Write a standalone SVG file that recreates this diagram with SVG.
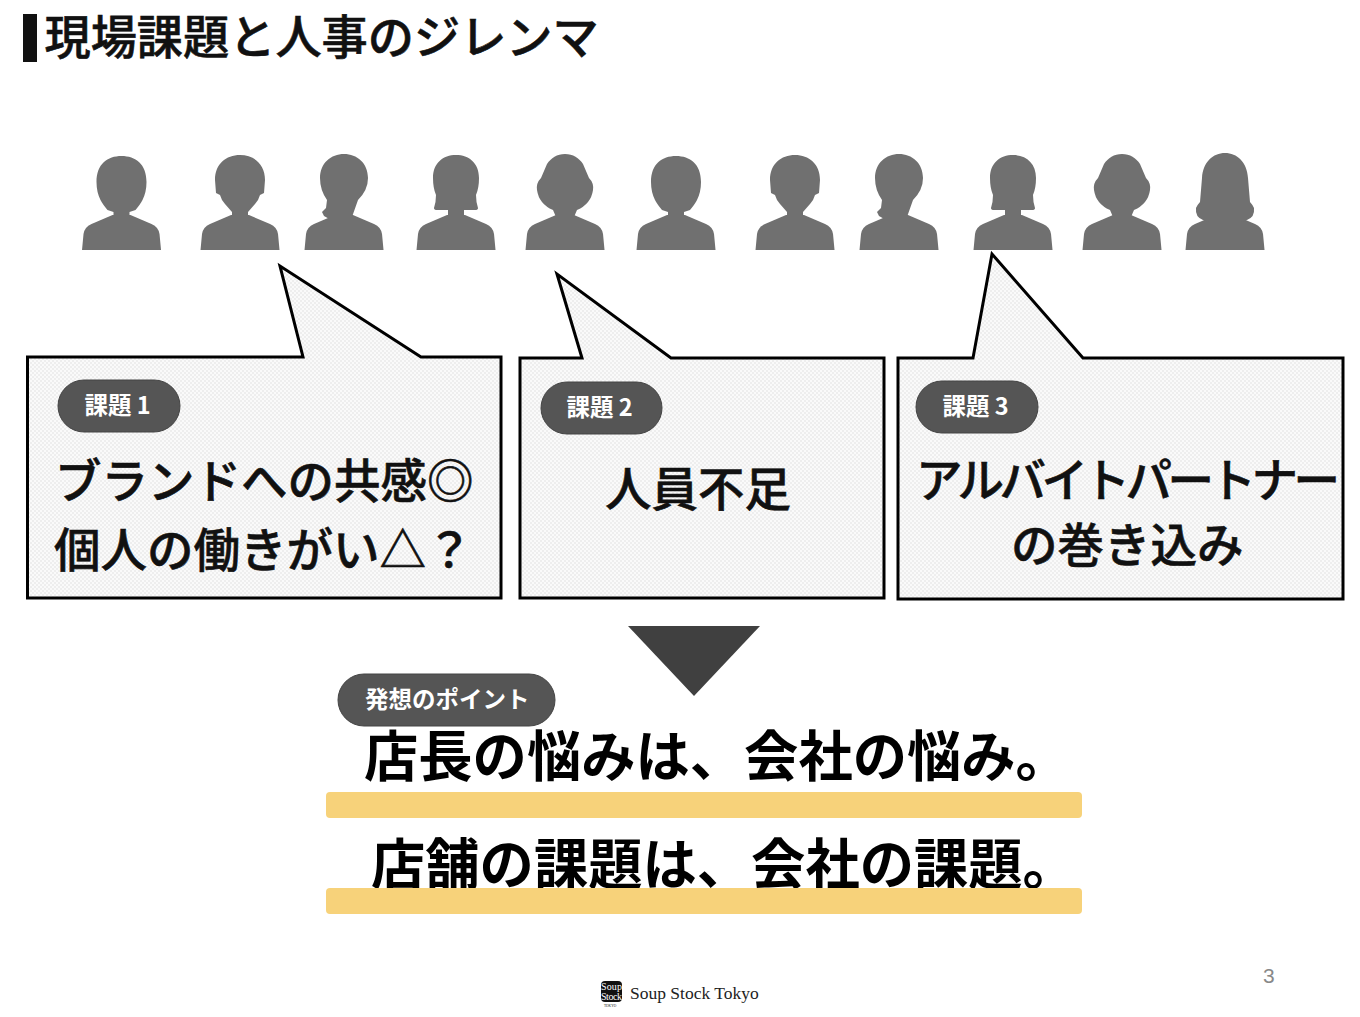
<svg xmlns="http://www.w3.org/2000/svg" width="1360" height="1017" viewBox="0 0 1360 1017">
<style>
text{font-family:"Noto Sans CJK JP","Noto Sans",sans-serif;fill:#111}
.t{font-weight:500;font-size:46.500px;stroke:#111;stroke-width:.6}
.h{font-weight:700;font-size:54.300px;fill:#000}
.p{font-weight:700;font-size:23.500px;fill:#fff}
.c{fill:url(#dots);stroke:#000;stroke-width:3}
.pill{fill:#555;stroke:#444;stroke-width:1}
.bar{fill:#f7d27a}
.person{fill:#707070}
.s{font-family:"Liberation Serif",serif}
</style>
<defs>
<pattern id="dots" width="4" height="4" patternUnits="userSpaceOnUse"><rect width="4" height="4" fill="#fafafa"/><circle cx="1" cy="1" r="0.8" fill="#e0e0e0"/><circle cx="3" cy="3" r="0.8" fill="#e0e0e0"/></pattern>
<path id="body" d="M-39.500 0L-38 -16Q-37 -23 -30 -26L-9 -35H9L30 -26Q37 -23 38 -16L39.500 0Z"/>
<g id="pa"><use href="#body"/><path d="M-8 -33V-38L-14 -40Q-19 -46 -21 -50Q-25 -58 -25 -68C-25 -86 -14 -94 0 -94S25 -86 25 -68Q25 -58 21 -50Q19 -46 14 -40L8 -38V-33Z"/></g>
<g id="pb"><use href="#body"/><path d="M-8 -33V-38L-15 -46L-18 -50L-20 -55L-24 -57L-25 -70C-25 -86 -14 -95 0 -95S25 -86 25 -70L24 -57L20 -55L18 -50L15 -46L8 -38V-33Z"/></g>
<g id="pc"><use href="#body"/><path d="M-13 -30L-20 -34L-22 -38L-18 -42L-17 -50Q-24 -60 -24 -72C-24 -87 -13 -96 0 -96S24 -87 24 -72Q24 -60 14 -50L8 -33Z"/></g>
<g id="pd"><use href="#body"/><path d="M-8 -33V-40L-19 -40Q-22 -40 -22 -42Q-20 -48 -20 -55Q-23 -62 -23 -72C-23 -87 -13 -95 0 -95S23 -87 23 -72Q23 -62 20 -55Q20 -48 22 -42Q22 -40 19 -40H8V-33Z"/></g>
<g id="pe"><use href="#body"/><path d="M-9 -33L-12 -40Q-26 -46 -28 -60Q-29 -67 -24 -72L-18 -86C-14 -92 -8 -96 0 -96S14 -92 18 -86L24 -72Q29 -67 28 -60Q26 -46 12 -40L9 -33Z"/></g>
<g id="pf"><use href="#body"/><path d="M-16 -28L-22 -30Q-30 -33 -29 -42Q-27 -46 -25 -48L-23 -72C-22 -88 -12 -97 0 -97S22 -88 23 -72L25 -48Q27 -46 29 -42Q30 -33 22 -30L16 -28Z"/></g>
</defs>
<rect width="1360" height="1017" fill="#fff"/>
<g id="title"><rect x="23" y="14" width="14" height="48" fill="#111"/><text class="t" style="font-size:46.200px" x="44.500" y="54">現場課題と人事のジレンマ</text></g>
<g id="people" class="person">
<use href="#pa" x="121.500" y="250"/><use href="#pb" x="240" y="250"/><use href="#pc" x="344" y="250"/><use href="#pd" x="456" y="250"/><use href="#pe" x="565" y="250"/><use href="#pa" x="676" y="250"/><use href="#pb" x="795" y="250"/><use href="#pc" x="899" y="250"/><use href="#pd" x="1013" y="250"/><use href="#pe" x="1122" y="250"/><use href="#pf" x="1225" y="250"/>
</g>
<g id="issue1"><path class="c" d="M27.500 357H303L280 266L421 357H501V598H27.500Z"/><rect class="pill" x="58" y="380" width="122" height="52" rx="26"/><text class="p" x="84.500" y="414">課題 1</text><text class="t" x="55" y="498">ブランドへの共感◎</text><text class="t" x="54" y="567">個人の働きがい△？</text></g>
<g id="issue2"><path class="c" d="M520 358H582L557 274L671 358H884V598H520Z"/><rect class="pill" x="541" y="382" width="121" height="52" rx="26"/><text class="p" x="566.500" y="416">課題 2</text><text class="t" x="605" y="506">人員不足</text></g>
<g id="issue3"><path class="c" d="M898 358H973L992 254L1083 358H1343V599H898Z"/><rect class="pill" x="916" y="381" width="122" height="52" rx="26"/><text class="p" x="942.500" y="415">課題 3</text><text class="t" x="916" y="497" textLength="424" lengthAdjust="spacing">アルバイトパートナー</text><text class="t" x="1011" y="562">の巻き込み</text></g>
<path id="arrow" d="M628 626H760L694 696Z" fill="#404040"/>
<g id="point"><text class="h" x="364" y="776">店長の悩みは、会社の悩み。</text><text class="h" x="371" y="884">店舗の課題は、会社の課題。</text><rect class="bar" x="326" y="792" width="756" height="26" rx="4"/><rect class="bar" x="326" y="888" width="756" height="26" rx="4"/><rect class="pill" x="338" y="674" width="217" height="52" rx="26"/><text class="p" x="365" y="708">発想のポイント</text></g>
<text x="1263" y="983" style="font-family:'Liberation Sans',sans-serif;font-size:21px;fill:#888">3</text>
<g id="logo"><rect x="601" y="981" width="21" height="21" rx="4" fill="#111"/><text class="s" x="601" y="990" textLength="21" style="font-size:10px;fill:#fff">Soup</text><text class="s" x="601" y="999.500" textLength="21" style="font-size:10px;fill:#fff">Stock</text><text class="s" x="604" y="1006.500" style="font-size:3.500px">TOKYO</text><text class="s" x="630" y="999" style="font-size:17.500px;fill:#222">Soup Stock Tokyo</text></g>
</svg>
